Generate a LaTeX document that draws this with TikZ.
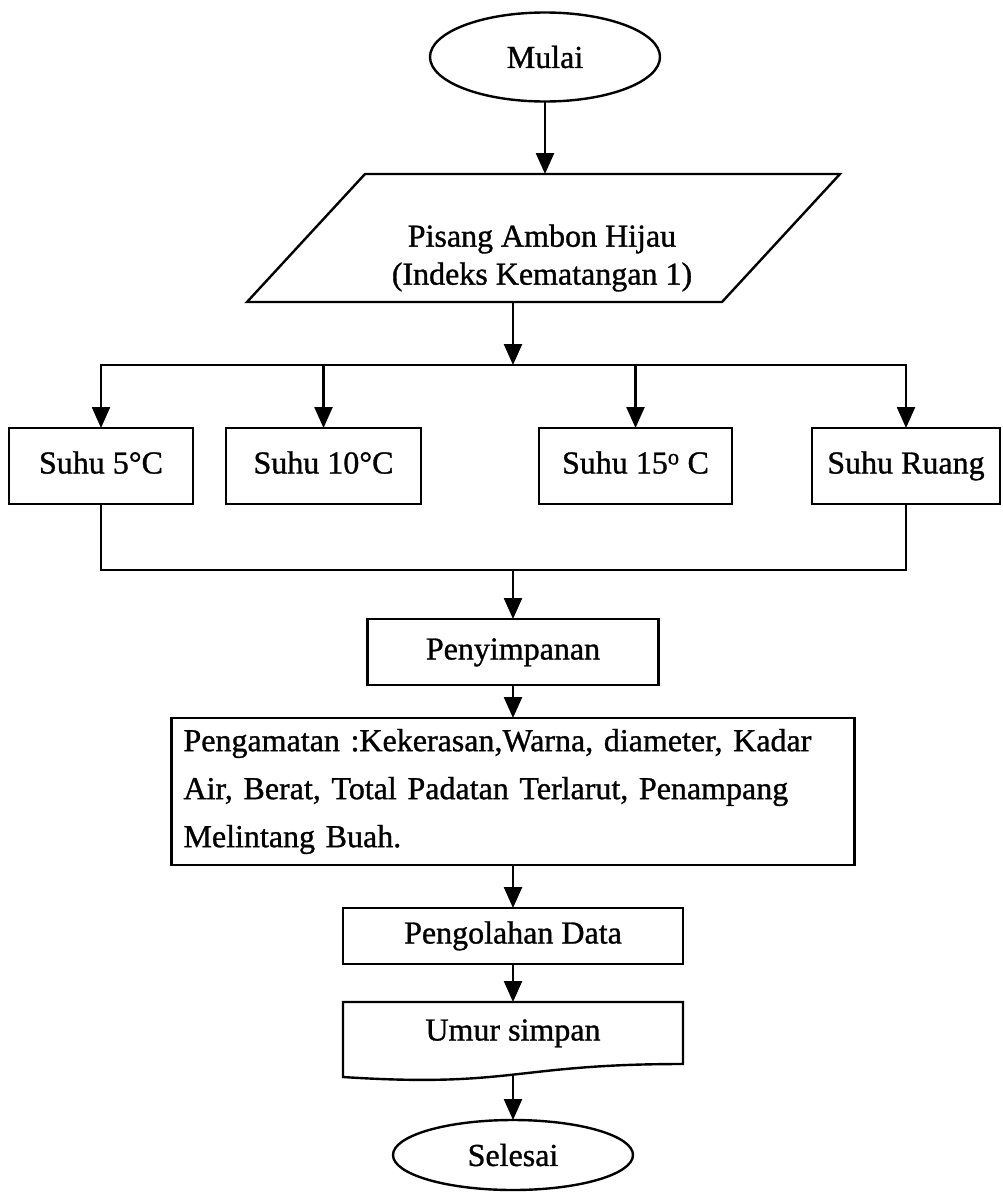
\documentclass[tikz,border=0pt]{standalone}
\usepackage{fontspec}
\setmainfont{Liberation Serif}[FakeBold=1]
\usepackage{tikz}
\usetikzlibrary{arrows.meta,positioning,shapes.geometric}

\begin{document}
\begin{tikzpicture}[
                    x=1pt, y=-1pt,
                    every node/.style={font=\fontsize{32}{38}\selectfont\frenchspacing, outer sep=0pt},
                    line/.style={line width=2.4pt, line cap=rect},
                    arr/.style={line width=2.4pt, -{Triangle[length=21pt,width=18pt]}},
                    terminal/.style={draw, ellipse, line width=2.4pt, inner sep=0pt},
                    box/.style={draw, rectangle, line width=2.4pt, inner sep=0pt, text height=22pt, text depth=7pt},
                    notebox/.style={draw, rectangle, line width=2.4pt, align=left, inner xsep=12pt, inner ysep=0pt, font=\fontsize{32}{48}\selectfont\frenchspacing},
                    txt/.style={align=center, inner sep=0pt}
                ]
                    \useasboundingbox (0,0) rectangle (1002,1194);

                    % Start and input
                    \node[terminal, minimum width=230pt, minimum height=89pt] (start) at (545,57) {Mulai};
                    \node[txt] (input) at (542,258) {Pisang Ambon Hijau\\(Indeks Kematangan 1)};
                    \draw[line] ([shift={(-177,-84)}]input.center) coordinate (pTL) -- ++(475,0) -- ++(-118,128) coordinate (pBR) -- ++(-475,0) -- cycle;

                    % Temperatures
                    \coordinate (split) at (513,365);
                    \node[box, minimum width=184pt, minimum height=76pt] (s1) at (101,466) {Suhu 5°C};
                    \node[box, minimum width=195pt, minimum height=76pt, right=33pt of s1] (s2) {Suhu 10°C};
                    \node[box, minimum width=193pt, minimum height=76pt, right=118pt of s2] (s3) {Suhu 15\textsuperscript{o} C};
                    \node[box, minimum width=188pt, minimum height=76pt, right=80pt of s3] (s4) {Suhu Ruang};
                    \coordinate (join) at (513,570);

                    % Main column
                    \node[box, minimum width=291pt, minimum height=66pt, below=49pt of join] (store) {Penyimpanan};
                    \node[notebox, text width=659pt, minimum height=147pt, below=33pt of store] (observe) {Pengamatan :Kekerasan,Warna, diameter, Kadar\\ Air, Berat, Total Padatan Terlarut, Penampang\\ Melintang Buah.};
                    \node[box, minimum width=340pt, minimum height=56pt, below=43pt of observe] (process) {Pengolahan Data};
                    \node[box, draw=none, minimum width=340pt, minimum height=62pt, below=38pt of process] (doc) {Umur simpan};
                    \draw[line] (doc.north west) -- (doc.north east) -- (doc.south east) .. controls (doc.south) and ([yshift=-24pt]doc.south) .. ([yshift=-13pt]doc.south west) -- cycle;
                    \coordinate (docBot) at ([yshift=-11.6pt]doc.south);
                    \node[terminal, minimum width=240pt, minimum height=70pt, below=56pt of doc] (end) {Selesai};

                    % Connectors
                    \draw[arr] (start.south) -- (start.south |- pTL);
                    \draw[arr] (split |- pBR) -- (split);
                    \draw[line] (s1.north |- split) -- (s4.north |- split);
                    \foreach \n in {s1,s2,s3,s4}
                        \draw[arr] (\n.north |- split) -- (\n.north);
                    \draw[line] (s1.south) |- (join) -| (s4.south);
                    \draw[arr] (join) -- (store);
                    \draw[arr] (store) -- (observe);
                    \draw[arr] (observe) -- (process);
                    \draw[arr] (process) -- (doc);
                    \draw[arr] (docBot) -- (end);
                \end{tikzpicture}
\end{document}
